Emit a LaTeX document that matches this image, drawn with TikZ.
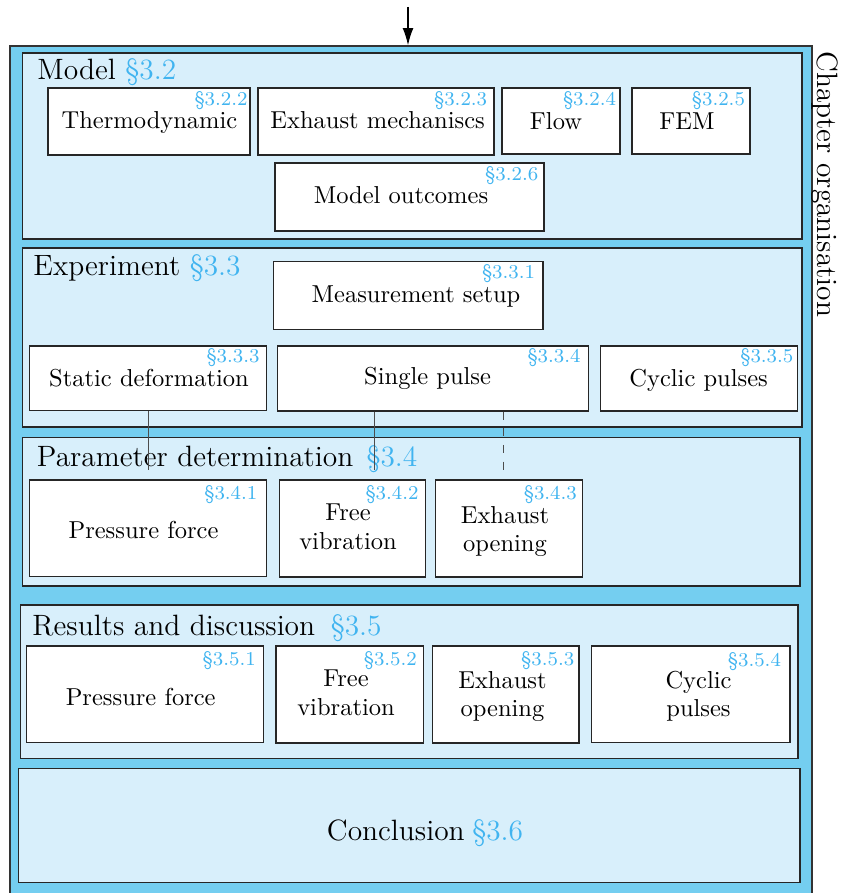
\documentclass[tikz,border=0pt]{standalone}
\usetikzlibrary{arrows.meta}
\definecolor{outerblue}{RGB}{116,206,240}
\definecolor{innerblue}{RGB}{216,239,251}
\definecolor{secblue}{RGB}{64,180,240}
\newcommand\pxl{0.40816pt}
\begin{document}
\begin{tikzpicture}[x=\pxl, y=-\pxl,
  panel/.style 2 args={draw=black!85, line width=0.45pt, fill=innerblue,
    minimum width=#1*\pxl, minimum height=#2*\pxl, inner sep=0pt},
  itembox/.style 2 args={draw=black!85, line width=0.45pt, fill=white,
    minimum width=#1*\pxl, minimum height=#2*\pxl, inner sep=0pt},
  txt/.style={inner sep=0pt, anchor=base, font=\normalsize},
  txttwo/.style={inner sep=0pt, anchor=north, align=center,
    font=\fontsize{10}{11.5}\selectfont},
  sec/.style={inner sep=0pt, anchor=base east, font=\footnotesize, text=secblue},
  head/.style={inner sep=0pt, anchor=base west, font=\large},
  link/.style={draw=black!70, line width=0.4pt}
]
\useasboundingbox (0,0) rectangle (842,893);
\clip (0,0) rectangle (842,893);

% outer frame
\node[draw=black!80, line width=0.6pt, fill=outerblue, minimum width=802*\pxl,
      minimum height=854*\pxl, inner sep=0pt] (outer) at (411,473) {};
\node[head, rotate=-90] (chap) at (817,51) {Chapter organisation};
\coordinate (entry) at (408,7);
\draw[line width=0.5pt, -{Latex[length=7pt, width=4.4pt]}] (entry) -- (entry |- outer.north);

% Model
\node[panel={779.5}{186}] (model) at (412.25,146) {};
\node[head] (model-h) at (37,80) {Model \textcolor{secblue}{\S3.2}};
\node[itembox={202}{67}] (thermo) at (149,121.5) {};
\node[txt] (thermo-t) at (149.5,129) {Thermodynamic};
\node[sec] (thermo-s) at (248,106) {\S3.2.2};
\node[itembox={236}{67}] (exmech) at (376,121.5) {};
\node[txt] (exmech-t) at (377.6,129) {Exhaust mechaniscs};
\node[sec] (exmech-s) at (487.6,106) {\S3.2.3};
\node[itembox={118}{66}] (flow) at (561,121) {};
\node[txt] (flow-t) at (556,130) {Flow};
\node[sec] (flow-s) at (616.5,106) {\S3.2.4};
\node[itembox={118}{66}] (fem) at (691,121) {};
\node[txt] (fem-t) at (687,130) {FEM};
\node[sec] (fem-s) at (745.4,106) {\S3.2.5};
\node[itembox={269}{68}] (outc) at (409.5,197) {};
\node[txt] (outc-t) at (401,203.5) {Model outcomes};
\node[sec] (outc-s) at (538.7,181) {\S3.2.6};

% Experiment
\node[panel={779.5}{179}] (exper) at (412.25,337.5) {};
\node[head] (exper-h) at (33,276) {Experiment \textcolor{secblue}{\S3.3}};
\node[itembox={269.6}{67.3}] (meas) at (408.2,295.6) {};
\node[txt] (meas-t) at (416,302.7) {Measurement setup};
\node[sec] (meas-s) at (535.5,279) {\S3.3.1};
\node[itembox={237}{64.7}] (static) at (148,378.4) {};
\node[txt] (static-t) at (149,386.7) {Static deformation};
\node[sec] (static-s) at (260,363) {\S3.3.3};
\node[itembox={310.3}{65}] (single) at (432.9,378.5) {};
\node[txt] (single-t) at (427.6,384) {Single pulse};
\node[sec] (single-s) at (581,362.7) {\S3.3.4};
\node[itembox={197}{65}] (cyclic) at (699,378.5) {};
\node[txt] (cyclic-t) at (698.6,386) {Cyclic pulses};
\node[sec] (cyclic-s) at (793.8,363) {\S3.3.5};

% Parameter determination
\node[panel={777.5}{148.7}] (param) at (411.25,511.65) {};
\node[head] (param-h) at (36.5,466.5) {Parameter determination\hspace{1.5pt} \textcolor{secblue}{\S3.4}};
\node[itembox={237}{96.7}] (ppress) at (148,528.35) {};
\node[txt] (ppress-t) at (143.5,538) {Pressure force};
\node[sec] (ppress-s) at (257.8,499.3) {\S3.4.1};
\node[itembox={146}{97}] (pfree) at (352.35,528.5) {};
\node[txttwo] (pfree-t) at (348,503.7) {Free\\vibration};
\node[sec] (pfree-s) at (419,499.3) {\S3.4.2};
\node[itembox={147}{97}] (pexh) at (508.6,528.5) {};
\node[txttwo] (pexh-t) at (505,506.3) {Exhaust\\opening};
\node[sec] (pexh-s) at (577.3,499.3) {\S3.4.3};

% links from the experiments down to the parameter stage
\coordinate (d1) at (148.8,470);
\coordinate (d2) at (374,470);
\coordinate (d3) at (503,471);
\draw[link] (static.south -| d1) -- (d1);
\draw[link] (single.south -| d2) -- (d2);
\draw[link, dash pattern=on 3.3pt off 3.5pt] (single.south -| d3) -- (d3);

% Results and discussion
\node[panel={777.6}{153.3}] (res) at (409.2,681.65) {};
\node[head] (res-h) at (32,635) {Results and discussion\hspace{2.5pt} \textcolor{secblue}{\S3.5}};
\node[itembox={237.4}{96.3}] (rpress) at (145,694.15) {};
\node[txt] (rpress-t) at (140.7,705) {Pressure force};
\node[sec] (rpress-s) at (256.2,665) {\S3.5.1};
\node[itembox={147.2}{97}] (rfree) at (349.6,694.5) {};
\node[txttwo] (rfree-t) at (346,669.7) {Free\\vibration};
\node[sec] (rfree-s) at (417.3,665) {\S3.5.2};
\node[itembox={146.7}{97}] (rexh) at (505.65,694.5) {};
\node[txttwo] (rexh-t) at (502.5,671.3) {Exhaust\\opening};
\node[sec] (rexh-s) at (574.7,665) {\S3.5.3};
\node[itembox={198.7}{96.3}] (rcyc) at (690.65,694.15) {};
\node[txttwo] (rcyc-t) at (698.5,671) {Cyclic\\pulses};
\node[sec] (rcyc-s) at (781.4,666.7) {\S3.5.4};

% Conclusion
\node[panel={781.2}{114.4}] (concl) at (409.4,825.5) {};
\node[head] (concl-h) at (326.5,840) {Conclusion\hspace{-0.8pt} \textcolor{secblue}{\S3.6}};
\end{tikzpicture}
\end{document}
